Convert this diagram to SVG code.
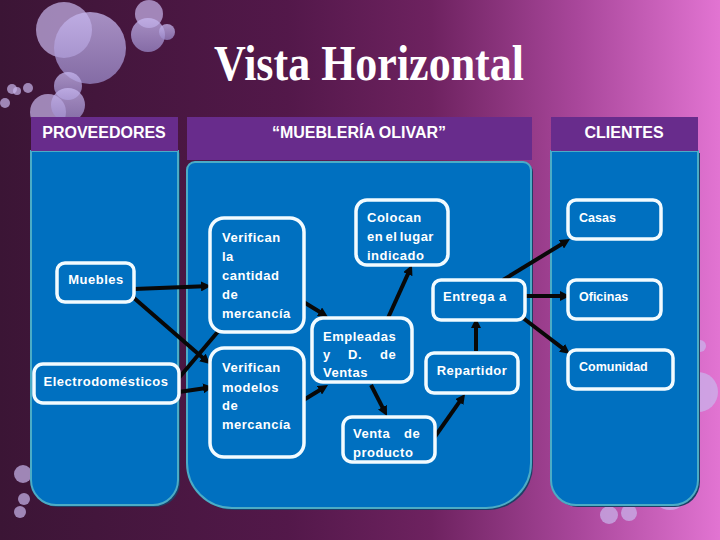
<svg xmlns="http://www.w3.org/2000/svg" width="720" height="540" viewBox="0 0 720 540">
<defs>
<linearGradient id="bg" x1="0" y1="0" x2="1" y2="0">
<stop offset="0" stop-color="#3b1535"/>
<stop offset="0.4" stop-color="#53184a"/>
<stop offset="0.6" stop-color="#6e2260"/>
<stop offset="0.8" stop-color="#a8469a"/>
<stop offset="1" stop-color="#e274d2"/>
</linearGradient>
<linearGradient id="bub" x1="0" y1="0" x2="0" y2="1">
<stop offset="0" stop-color="#c8b8f0"/>
<stop offset="1" stop-color="#9a88c8"/>
</linearGradient>
<marker id="ah" viewBox="0 0 10 10" markerWidth="10" markerHeight="10" markerUnits="userSpaceOnUse" refX="3" refY="5" orient="auto">
<path d="M0,0 L10,5 L0,10 z" fill="#080808"/>
</marker>
<style>
.hdr{fill:#682c8c}
.body{fill:#0070c0;stroke:#4bacc6;stroke-width:2}
.shadow{fill:#1d3f66}
.node rect{fill:#0070c0;stroke:#f2fbff;stroke-width:3.5}
.ht{font-family:"Liberation Sans",Arial,sans-serif;font-weight:bold;font-size:16px;fill:#ffffff;text-anchor:middle}
.nt{font-family:"Liberation Sans",Arial,sans-serif;font-weight:bold;font-size:13px;letter-spacing:0.5px;fill:#ffffff}
.ct{font-family:"Liberation Sans",Arial,sans-serif;font-weight:bold;font-size:12.5px;fill:#ffffff}
.b{fill:url(#bub);opacity:0.75}
.bl{fill:#c9b6ec;opacity:0.7}
#connectors line{stroke:#080808;stroke-width:4;marker-end:url(#ah)}
</style>
</defs>
<rect x="0" y="0" width="720" height="540" fill="url(#bg)"/>
<g id="bubbles">
<circle class="bl" cx="64" cy="30" r="28"/>
<circle class="b" cx="90" cy="48" r="36"/>
<circle class="b" cx="68" cy="86" r="14"/>
<circle class="bl" cx="48" cy="112" r="18"/>
<circle class="b" cx="68" cy="105" r="17"/>
<circle class="bl" cx="12" cy="89" r="5"/>
<circle class="bl" cx="17" cy="91" r="4"/>
<circle class="bl" cx="28" cy="88" r="5"/>
<circle class="bl" cx="5" cy="103" r="5"/>
<circle class="bl" cx="149" cy="14" r="14"/>
<circle class="b" cx="148" cy="35" r="17"/>
<circle class="b" cx="167" cy="32" r="8"/>
<circle class="bl" cx="23" cy="474" r="9"/>
<circle class="bl" cx="24" cy="499" r="6"/>
<circle class="bl" cx="20" cy="512" r="6"/>
<circle class="bl" cx="609" cy="515" r="9"/>
<circle class="bl" cx="629" cy="513" r="8"/>
<circle class="bl" cx="698" cy="392" r="20" opacity="0.4"/>
<circle class="bl" cx="700" cy="346" r="6" opacity="0.4"/>
<circle class="bl" cx="670" cy="492" r="18" opacity="0.4"/>
</g>
<text x="214" y="80" textLength="310" lengthAdjust="spacingAndGlyphs" font-family="'Liberation Serif','Times New Roman',serif" font-weight="bold" font-size="50" fill="#ffffff">Vista Horizontal</text>
<g id="col-proveedores">
<path class="shadow" d="M33,153 H180 V482 A25,25 0 0 1 155,507 H58 A25,25 0 0 1 33,482 Z"/>
<path class="body" d="M31,151 H178 V480 A25,25 0 0 1 153,505 H56 A25,25 0 0 1 31,480 Z"/>
<rect class="hdr" x="31" y="117" width="147" height="34"/>
<text class="ht" x="104" y="138">PROVEEDORES</text>
</g>
<g id="col-muebleria">
<path class="shadow" d="M197,164 H525 A8,8 0 0 1 533,172 V465 A45,45 0 0 1 488,510 H234 A45,45 0 0 1 189,465 V172 A8,8 0 0 1 197,164 Z"/>
<path class="body" d="M195,162 H523 A8,8 0 0 1 531,170 V463 A45,45 0 0 1 486,508 H232 A45,45 0 0 1 187,463 V170 A8,8 0 0 1 195,162 Z"/>
<rect class="hdr" x="187" y="117" width="345" height="43"/>
<text class="ht" x="359" y="138">“MUEBLERÍA OLIVAR”</text>
</g>
<g id="col-clientes">
<path class="shadow" d="M553,153 H700 V482 A25,25 0 0 1 675,507 H578 A25,25 0 0 1 553,482 Z"/>
<path class="body" d="M551,151 H698 V480 A25,25 0 0 1 673,505 H576 A25,25 0 0 1 551,480 Z"/>
<rect class="hdr" x="551" y="117" width="147" height="34"/>
<text class="ht" x="624" y="138">CLIENTES</text>
</g>
<g id="connectors">
<line x1="134" y1="289" x2="204" y2="286.3"/>
<line x1="134" y1="298" x2="204.7" y2="359.4"/>
<line x1="172" y1="386" x2="222.5" y2="326.3"/>
<line x1="172" y1="393" x2="206.1" y2="388"/>
<line x1="297" y1="298" x2="322" y2="313.3"/>
<line x1="297" y1="404" x2="322" y2="388.7"/>
<line x1="388" y1="318" x2="409.1" y2="271.4"/>
<line x1="371" y1="385" x2="383.8" y2="409.8"/>
<line x1="434" y1="438" x2="461" y2="399.7"/>
<line x1="476" y1="351" x2="476" y2="325"/>
<line x1="503" y1="280" x2="564" y2="242.7"/>
<line x1="523" y1="296" x2="563" y2="296"/>
<line x1="523" y1="318" x2="564.4" y2="349.7"/>
</g>
<g id="muebles" class="node">
<rect x="57" y="263" width="77" height="39" rx="8"/>
<text class="nt" x="96" y="284" text-anchor="middle">Muebles</text>
</g>
<g id="electrodomesticos" class="node">
<rect x="34" y="364" width="145" height="39" rx="9"/>
<text class="nt" x="106" y="386" text-anchor="middle" letter-spacing="0.3">Electrodomésticos</text>
</g>
<g id="verifican-cantidad" class="node">
<rect x="210" y="218" width="94" height="114" rx="14"/>
<text class="nt"><tspan x="222" y="242">Verifican</tspan><tspan x="222" y="261">la</tspan><tspan x="222" y="280">cantidad</tspan><tspan x="222" y="299">de</tspan><tspan x="222" y="318">mercancía</tspan></text>
</g>
<g id="verifican-modelos" class="node">
<rect x="210" y="348" width="94" height="109" rx="14"/>
<text class="nt"><tspan x="222" y="372">Verifican</tspan><tspan x="222" y="392">modelos</tspan><tspan x="222" y="410">de</tspan><tspan x="222" y="429">mercancía</tspan></text>
</g>
<g id="colocan" class="node">
<rect x="356" y="200" width="92" height="65" rx="11"/>
<text class="nt"><tspan x="367" y="222">Colocan</tspan><tspan x="367" y="241" word-spacing="-1.8">en el lugar</tspan><tspan x="367" y="260">indicado</tspan></text>
</g>
<g id="empleadas" class="node">
<rect x="312" y="318" width="100" height="64" rx="11"/>
<text class="nt"><tspan x="323" y="341">Empleadas</tspan><tspan x="323" y="359">y</tspan><tspan x="348" y="359">D.</tspan><tspan x="380" y="359">de</tspan><tspan x="323" y="377">Ventas</tspan></text>
</g>
<g id="venta-producto" class="node">
<rect x="343" y="417" width="92" height="45" rx="9"/>
<text class="nt"><tspan x="353" y="438">Venta</tspan><tspan x="404" y="438">de</tspan><tspan x="353" y="457">producto</tspan></text>
</g>
<g id="entrega" class="node">
<rect x="433" y="280" width="92" height="40" rx="8"/>
<text class="nt" x="443" y="301">Entrega a</text>
</g>
<g id="repartidor" class="node">
<rect x="426" y="353" width="92" height="40" rx="8"/>
<text class="nt" x="472" y="375" text-anchor="middle">Repartidor</text>
</g>
<g id="casas" class="node">
<rect x="568" y="200" width="93" height="39" rx="8"/>
<text class="ct" x="579" y="222">Casas</text>
</g>
<g id="oficinas" class="node">
<rect x="568" y="280" width="93" height="39" rx="8"/>
<text class="ct" x="579" y="301">Oficinas</text>
</g>
<g id="comunidad" class="node">
<rect x="568" y="350" width="105" height="39" rx="8"/>
<text class="ct" x="579" y="371">Comunidad</text>
</g>
</svg>
